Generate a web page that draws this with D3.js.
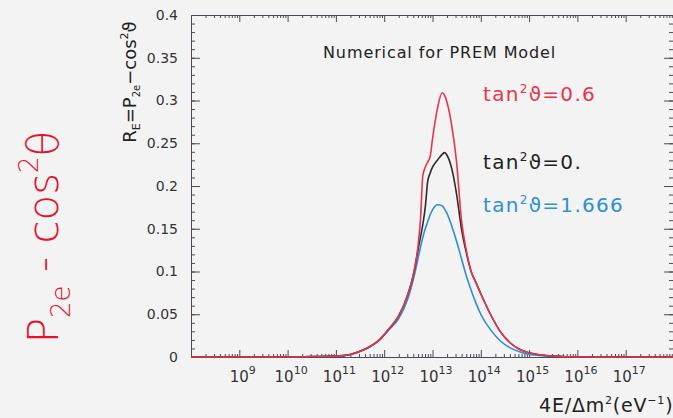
<!DOCTYPE html>
<html>
<head>
<meta charset="utf-8">
<script src="https://cdn.jsdelivr.net/npm/d3@7"></script>
<style>
  body { margin: 0; background: #f3f3f3; }
  svg { display: block; }
  .axis path { stroke: #4a4a58; }
  .axis line { stroke: #4a4a58; }
  .axis text { font-family: "DejaVu Sans", sans-serif; font-size: 14px; fill: #333; }
</style>
</head>
<body>
<svg id="chart"></svg>
<script>
// log10(4E/dm^2) sample points
const logE = [8, 9, 10, 10.5, 11, 11.3, 11.6, 11.9, 12.1, 12.3, 12.5, 12.6, 12.7, 12.75, 12.8, 12.85, 12.9, 12.95,
  13.0, 13.1, 13.2, 13.25, 13.3, 13.4, 13.5, 13.6, 13.7, 13.8, 13.9, 14.0, 14.2, 14.4, 14.6, 14.8, 15.0, 15.5, 16, 17, 18];

const rRed = [0, 0, 0, 0.0005, 0.001, 0.003, 0.009, 0.02, 0.033, 0.048, 0.075, 0.095, 0.13, 0.16, 0.212, 0.222, 0.228, 0.234,
  0.255, 0.29, 0.309, 0.306, 0.298, 0.27, 0.227, 0.16, 0.125, 0.1, 0.087, 0.074, 0.05, 0.03, 0.017, 0.009, 0.005, 0.001, 0, 0, 0];
const rBlack = [0, 0, 0, 0.0005, 0.001, 0.003, 0.009, 0.02, 0.033, 0.048, 0.075, 0.095, 0.125, 0.14, 0.155, 0.175, 0.205, 0.215,
  0.222, 0.23, 0.237, 0.239, 0.236, 0.22, 0.19, 0.15, 0.122, 0.1, 0.087, 0.074, 0.05, 0.03, 0.017, 0.009, 0.005, 0.001, 0, 0, 0];
const rBlue = [0, 0, 0, 0.0005, 0.001, 0.003, 0.009, 0.02, 0.032, 0.045, 0.07, 0.09, 0.115, 0.128, 0.14, 0.15, 0.158, 0.166,
  0.172, 0.178, 0.177, 0.173, 0.168, 0.153, 0.135, 0.115, 0.095, 0.078, 0.063, 0.05, 0.032, 0.019, 0.011, 0.006, 0.003, 0.001, 0, 0, 0];

const seriesNames = ["tan²ϑ=0.6", "tan²ϑ=0.", "tan²ϑ=1.666"];
const decades = [9, 10, 11, 12, 13, 14, 15, 16, 17];
const yTicks = [0, 0.05, 0.1, 0.15, 0.2, 0.25, 0.3, 0.35, 0.4];

const width = 673, height = 418;
const margin = { top: 15, right: -1, bottom: 61, left: 191 };

const svg = d3.select("#chart").attr("width", width).attr("height", height);

const x = d3.scaleLog().domain([1e8, 1e18]).range([margin.left, width - margin.right]);
const y = d3.scaleLinear().domain([0, 0.4]).range([height - margin.bottom, margin.top]);

// minor ticks
const xMinor = [];
for (let d = 8; d < 18; d++) for (let m = 2; m <= 9; m++) xMinor.push(m * Math.pow(10, d));
const yMinor = d3.range(0, 41).map(i => i / 100);

const y0 = height - margin.bottom;

// frame + ticks
svg.append("g").attr("class", "axis").attr("transform", `translate(0,${y0})`)
  .call(d3.axisBottom(x).tickValues(xMinor).tickSize(-3).tickFormat("").tickSizeOuter(0));
svg.append("g").attr("class", "axis").attr("transform", `translate(0,${margin.top})`)
  .call(d3.axisTop(x).tickValues(xMinor).tickSize(-3).tickFormat("").tickSizeOuter(0));
svg.append("g").attr("class", "axis").attr("transform", `translate(0,${margin.top})`)
  .call(d3.axisTop(x).tickValues(decades.map(d => Math.pow(10, d))).tickSize(-7).tickFormat("").tickSizeOuter(0));

const xAxisG = svg.append("g").attr("class", "axis").attr("transform", `translate(0,${y0})`)
  .call(d3.axisBottom(x).tickValues(decades.map(d => Math.pow(10, d))).tickSize(-7).tickFormat("").tickSizeOuter(0));

xAxisG.selectAll(".tick").each(function (d) {
  const t = d3.select(this).append("text")
    .attr("y", 25).attr("dx", 3).attr("text-anchor", "middle").style("font-size", "15px");
  t.append("tspan").text("10");
  t.append("tspan").attr("dy", -8).attr("font-size", 11).text(Math.round(Math.log10(d)));
});

svg.append("g").attr("class", "axis").attr("transform", `translate(${margin.left},0)`)
  .call(d3.axisLeft(y).tickValues(yMinor).tickSize(-4).tickFormat("").tickSizeOuter(0));
svg.append("g").attr("class", "axis").attr("transform", `translate(${margin.left},0)`)
  .call(d3.axisLeft(y).tickValues(yTicks).tickSize(-9).tickPadding(13).tickFormat(d3.format("~g")).tickSizeOuter(0));
svg.append("g").attr("class", "axis").attr("transform", `translate(${width - margin.right - 1},0)`)
  .call(d3.axisRight(y).tickValues(yMinor).tickSize(-4).tickFormat("").tickSizeOuter(0));
svg.append("g").attr("class", "axis").attr("transform", `translate(${width - margin.right - 1},0)`)
  .call(d3.axisRight(y).tickValues(yTicks).tickSize(-9).tickFormat("").tickSizeOuter(0));

// curves
const line = d3.line()
  .x((d, i) => x(Math.pow(10, logE[i])))
  .y(d => y(d))
  .curve(d3.curveMonotoneX);

const curves = [
  { vals: rBlue, color: "#2d8fd5" },
  { vals: rBlack, color: "#2b2b2b" },
  { vals: rRed, color: "#e8344d" }
];
svg.selectAll(".curve").data(curves).enter().append("path")
  .attr("class", "curve")
  .attr("d", d => line(d.vals))
  .attr("fill", "none")
  .attr("stroke", d => d.color)
  .attr("stroke-width", 1.6);

// title
svg.append("text").attr("x", 323).attr("y", 58)
  .attr("font-family", "DejaVu Sans, sans-serif").attr("font-size", 16).attr("letter-spacing", 0.9).attr("fill", "#222")
  .text("Numerical for PREM Model");

// series labels
const labelColors = ["#e8344d", "#222", "#2d8fd5"];
const labelY = [101, 169, 212];
seriesNames.forEach((name, i) => {
  const t = svg.append("text").attr("x", 483).attr("y", labelY[i])
    .attr("font-family", "DejaVu Sans, sans-serif").attr("font-size", 20).attr("letter-spacing", 1.3)
    .attr("fill", labelColors[i]);
  const parts = name.split("²");
  t.append("tspan").text(parts[0]);
  t.append("tspan").attr("dy", -8).attr("font-size", 12).text("2");
  t.append("tspan").attr("dy", 8).text(parts[1]);
});

// x axis title
const xt = svg.append("text").attr("x", 539).attr("y", 412)
  .attr("font-family", "DejaVu Sans, sans-serif").attr("font-size", 19).attr("letter-spacing", 0.8).attr("fill", "#222");
xt.append("tspan").text("4E/Δm");
xt.append("tspan").attr("dy", -8).attr("font-size", 11).text("2");
xt.append("tspan").attr("dy", 8).text("(eV");
xt.append("tspan").attr("dy", -8).attr("font-size", 11).text("−1");
xt.append("tspan").attr("dy", 8).text(")");

// y axis title
const yt = svg.append("text").attr("transform", "translate(136,82) rotate(-90)")
  .attr("text-anchor", "middle")
  .attr("font-family", "DejaVu Sans, sans-serif").attr("font-size", 18).attr("fill", "#222");
yt.append("tspan").text("R");
yt.append("tspan").attr("dy", 4).attr("font-size", 11).text("E");
yt.append("tspan").attr("dy", -4).text("=P");
yt.append("tspan").attr("dy", 4).attr("font-size", 10).text("2e");
yt.append("tspan").attr("dy", -4).text("−cos");
yt.append("tspan").attr("dy", -8).attr("font-size", 11).text("2");
yt.append("tspan").attr("dy", 8).text("ϑ");

// handwritten annotation
const hw = svg.append("text").attr("transform", "translate(58,237) rotate(-90)")
  .attr("text-anchor", "middle")
  .attr("font-family", "DejaVu Sans, sans-serif").attr("font-size", 42).attr("font-weight", 300)
  .attr("fill", "#e8102a");
hw.append("tspan").text("P");
hw.append("tspan").attr("dy", 12).attr("font-size", 26).text("2e");
hw.append("tspan").attr("dy", -12).text(" - cos");
hw.append("tspan").attr("dy", -20).attr("font-size", 26).text("2");
hw.append("tspan").attr("dy", 20).text("θ");
</script>
</body>
</html>
